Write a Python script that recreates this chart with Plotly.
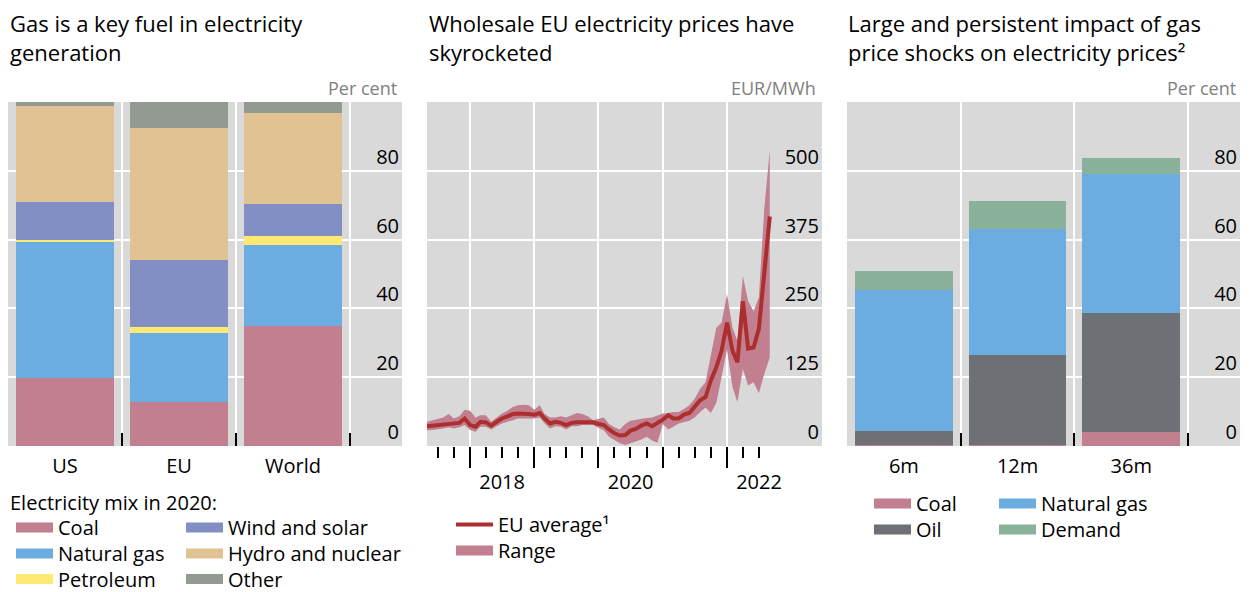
import plotly.graph_objects as go
import pandas as pd

# The page adds an 8 px body margin, so the figure is 8 px smaller than the window
PAD = 8
W, H = 1249 - PAD, 592 - PAD
FONT = "Open Sans"

def fx(x):  # reference-window x pixel -> figure fraction
    return (x - PAD) / W

def fy(y):  # reference-window y pixel -> figure fraction (from bottom)
    return 1 - (y - PAD) / H

# ---------------- Panel 1: electricity mix in 2020 (per cent) ----------------
mix_regions = ["US", "EU", "World"]
mix_coal = [19.8, 12.8, 34.9]
mix_gas = [39.4, 20.0, 23.4]
mix_petroleum = [0.6, 1.8, 2.8]
mix_wind_solar = [11.2, 19.5, 9.3]
mix_hydro_nuclear = [27.9, 38.4, 26.5]
mix_other = [1.1, 7.5, 3.1]

# ---------------- Panel 2: wholesale EU electricity prices (EUR/MWh) ----------------
price_start = "2017-05-01"
price_end = "2022-09-01"
eu_avg = [36, 37, 38, 40, 41, 41, 42, 50,
          38, 35, 44, 43, 37, 44, 50, 54, 58, 59, 59, 58,
          57, 60, 50, 41, 44, 42, 38, 42, 43, 43, 44, 43,
          40, 38, 30, 23, 19, 20, 28, 31, 37, 41, 36, 41,
          48, 56, 50, 50, 57, 60, 72, 83, 89, 119, 143, 173,
          224, 173, 152, 263, 177, 179, 213, 318, 417]
eu_high = [44, 47, 50, 52, 58, 50, 54, 66,
           64, 52, 56, 56, 44, 52, 59, 64, 71, 74, 75, 74,
           66, 74, 58, 52, 52, 54, 52, 56, 60, 58, 54, 47,
           50, 52, 40, 34, 30, 40, 46, 48, 50, 51, 52, 56,
           59, 60, 62, 62, 67, 74, 86, 104, 116, 165, 215, 224,
           276, 215, 191, 309, 263, 245, 270, 432, 538]
eu_low = [28, 29, 30, 32, 34, 32, 34, 38,
          29, 26, 35, 35, 30, 36, 41, 44, 47, 50, 50, 50,
          50, 52, 41, 32, 36, 35, 30, 36, 36, 38, 38, 38,
          33, 28, 17, 11, 5, 2, 5, 8, 12, 17, 10, 6,
          40, 30, 35, 41, 44, 46, 52, 62, 70, 60, 78, 125,
          175, 107, 80, 140, 110, 116, 96, 131, 161]
year_ticks = ["2018-01-01", "2019-01-01", "2020-01-01", "2021-01-01", "2022-01-01"]
year_label_pos = ["2018-07-02", "2020-07-02", "2022-07-02"]
year_labels = ["2018", "2020", "2022"]

# ---------------- Panel 3: impact of gas price shocks (per cent) ----------------
horizons = ["6m", "12m", "36m"]
imp_coal = [0.3, 0.3, 4.1]
imp_oil = [4.0, 26.1, 34.6]
imp_gas = [41.0, 36.7, 40.5]
imp_demand = [5.6, 8.2, 4.6]

C_COAL = "#C27F8F"
C_GAS = "#6BADE0"
C_PETROL = "#FFE974"
C_WIND = "#828FC4"
C_HYDRO = "#E1C393"
C_OTHER = "#939A92"
C_OIL = "#6D7075"
C_DEMAND = "#8AB19A"
C_LINE = "#AD2E2E"
BG = "#D9D9D9"

months = pd.date_range(price_start, price_end, freq="MS")
quarters = pd.date_range("2017-07-01", "2022-07-01", freq="QS")

fig = go.Figure()
BW = 0.86
ITEMW = 37          # legend symbol width
TEXT_OFF = ITEMW + 10  # legend text offset from the legend's left edge

# one legend per legend entry, positioned like the reference (text-left x, row-centre y)
legend_specs = {}

def leg(key, x_text, y_center):
    legend_specs[key] = (x_text, y_center)
    return key

def swatch(name, col, lg, xa, ya, width=14):
    # legend-only entry drawn as a wide colour swatch
    fig.add_trace(go.Scatter(x=[None], y=[None], mode="lines", name=name,
                             line=dict(color=col, width=width), legend=lg,
                             xaxis=xa, yaxis=ya, hoverinfo="skip"))

mix_series = [
    ("Coal", mix_coal, C_COAL, leg("legend", 58, 528)),
    ("Natural gas", mix_gas, C_GAS, leg("legend2", 58, 554)),
    ("Petroleum", mix_petroleum, C_PETROL, leg("legend3", 58, 579.5)),
    ("Wind and solar", mix_wind_solar, C_WIND, leg("legend4", 228, 528)),
    ("Hydro and nuclear", mix_hydro_nuclear, C_HYDRO, leg("legend5", 228, 554)),
    ("Other", mix_other, C_OTHER, leg("legend6", 228, 579.5)),
]
for name, vals, col, lg in mix_series:
    fig.add_trace(go.Bar(x=mix_regions, y=vals, name=name, marker=dict(color=col, line=dict(width=0)),
                         width=BW, xaxis="x", yaxis="y", showlegend=False, hoverinfo="name+y"))
for name, vals, col, lg in mix_series:
    swatch(name, col, lg, "x", "y")

fig.add_trace(go.Scatter(x=list(months) + list(months[::-1]), y=eu_high + eu_low[::-1],
                         fill="toself", fillcolor=C_COAL, mode="lines", line=dict(width=0, color=C_COAL),
                         name="Range", xaxis="x2", yaxis="y2", showlegend=False))
fig.add_trace(go.Scatter(x=months, y=eu_avg, mode="lines", line=dict(color=C_LINE, width=4),
                         name="EU average¹", xaxis="x2", yaxis="y2",
                         legend=leg("legend7", 498, 525)))
swatch("Range", C_COAL, leg("legend8", 498, 551), "x2", "y2")
# invisible carrier trace so the year-label axis (overlaying x2) is drawn
fig.add_trace(go.Scatter(x=months, y=eu_avg, mode="lines", line=dict(width=0, color="rgba(0,0,0,0)"),
                         showlegend=False, hoverinfo="skip", xaxis="x4", yaxis="y2"))

imp_series = [
    ("Coal", imp_coal, C_COAL, leg("legend9", 916, 504)),
    ("Oil", imp_oil, C_OIL, leg("legend10", 916, 530)),
    ("Natural gas", imp_gas, C_GAS, leg("legend11", 1041, 504)),
    ("Demand", imp_demand, C_DEMAND, leg("legend12", 1041, 530)),
]
for name, vals, col, lg in imp_series:
    fig.add_trace(go.Bar(x=horizons, y=vals, name=name, marker=dict(color=col, line=dict(width=0)),
                         width=BW, xaxis="x3", yaxis="y3", showlegend=False, hoverinfo="name+y"))
for name, vals, col, lg in imp_series:
    swatch(name, col, lg, "x3", "y3")

ydom = [fy(446), fy(102)]
tickfont = dict(family=FONT, size=20, color="#000000")

def cat_xaxis(dom, anchor):
    return dict(domain=dom, anchor=anchor, type="category", range=[-0.5, 2.956],
                categoryorder="trace",
                tickson="boundaries", ticks="inside", ticklen=13, tickwidth=1.5, tickcolor="#000000",
                showgrid=True, gridcolor="white", gridwidth=2, zeroline=False, showline=False,
                tickfont=tickfont, ticklabelstandoff=6, fixedrange=True)

def right_yaxis(anchor, rng, vals):
    return dict(domain=ydom, anchor=anchor, range=rng, tickvals=vals, side="right",
                ticklabelposition="inside top", ticks="",
                showgrid=True, gridcolor="white", gridwidth=2, zeroline=False, showline=False,
                tickfont=tickfont, fixedrange=True)

date_range = ["2017-05-01", "2023-06-25"]

legends = {}
for key, (xt, yc) in legend_specs.items():
    legends[key] = dict(xref="container", yref="container", x=fx(xt - TEXT_OFF), xanchor="left",
                        y=fy(yc - 20), yanchor="top", orientation="v", traceorder="normal",
                        itemwidth=ITEMW,
                        font=dict(family=FONT, size=20, color="#000000"), bgcolor="rgba(0,0,0,0)",
                        itemclick=False, itemdoubleclick=False, tracegroupgap=0)

fig.update_layout(
    width=W, height=H,
    margin=dict(l=0, r=0, t=0, b=0, autoexpand=False),
    paper_bgcolor="white", plot_bgcolor=BG,
    barmode="stack",
    font=dict(family=FONT, size=20, color="#000000"),
    xaxis=cat_xaxis([0, fx(402)], "y"),
    yaxis=right_yaxis("x", [0, 100], [0, 20, 40, 60, 80]),
    xaxis2=dict(domain=[fx(427), fx(822)], anchor="y2", type="date", range=date_range,
                tickvals=year_ticks, showticklabels=False, ticks="outside", ticklen=21,
                tickwidth=1.5, tickcolor="#000000", showgrid=True, gridcolor="white", gridwidth=2,
                zeroline=False, showline=False,
                minor=dict(tickvals=list(quarters), ticks="outside", ticklen=11, tickwidth=1.5,
                           tickcolor="#000000", showgrid=False)),
    xaxis4=dict(overlaying="x2", anchor="y2", type="date", range=date_range, side="bottom",
                tickvals=year_label_pos, ticktext=year_labels, ticks="outside", ticklen=18,
                tickcolor="rgba(0,0,0,0)", showgrid=False, zeroline=False, showline=False,
                tickfont=tickfont),
    yaxis2=right_yaxis("x2", [0, 625], [0, 125, 250, 375, 500]),
    xaxis3=cat_xaxis([fx(847), fx(1240)], "y3"),
    yaxis3=right_yaxis("x3", [0, 100], [0, 20, 40, 60, 80]),
    showlegend=True,
    **legends,
)

title_font = dict(family=FONT, size=22, color="#000000")
unit_font = dict(family=FONT, size=18, color="#808080")
titles = [
    (8, "Gas is a key fuel in electricity<br>generation"),
    (427, "Wholesale EU electricity prices have<br>skyrocketed"),
    (846, "Large and persistent impact of gas<br>price shocks on electricity prices²"),
]
for x, t in titles:
    fig.add_annotation(x=fx(x), y=fy(38), xref="paper", yref="paper", xanchor="left", yanchor="middle",
                       text=t, showarrow=False, align="left", font=title_font)
units = [(399, "Per cent"), (818, "EUR/MWh"), (1238, "Per cent")]
for x, t in units:
    fig.add_annotation(x=fx(x), y=fy(88), xref="paper", yref="paper", xanchor="right", yanchor="middle",
                       text=t, showarrow=False, font=unit_font)
fig.add_annotation(x=fx(8), y=fy(502), xref="paper", yref="paper", xanchor="left", yanchor="middle",
                   text="Electricity mix in 2020:", showarrow=False,
                   font=dict(family=FONT, size=20, color="#000000"))

fig.write_html("out.html")
